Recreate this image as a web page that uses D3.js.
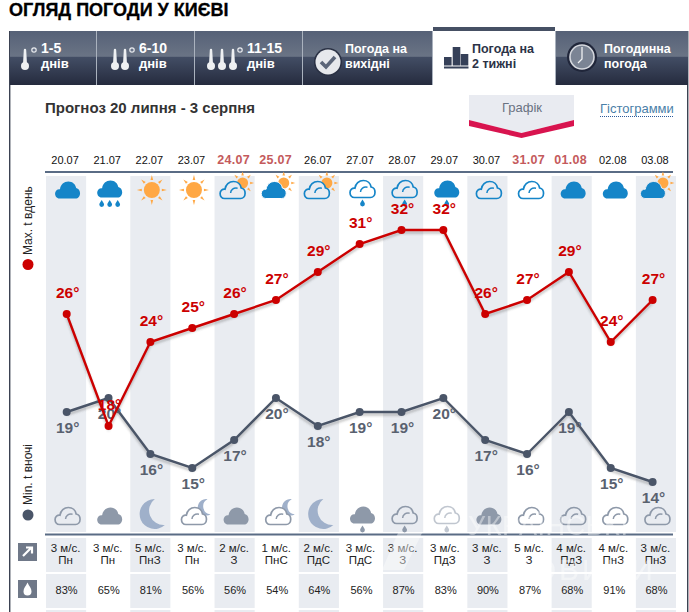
<!DOCTYPE html>
<html><head><meta charset="utf-8">
<script src="https://cdn.jsdelivr.net/npm/d3@7/dist/d3.min.js"></script>
<style>html,body{margin:0;padding:0;background:#fff}svg{display:block}text{font-family:"Liberation Sans",Arial,sans-serif}</style>
</head><body><div id="c"></div>
<script>
const dates=["20.07","21.07","22.07","23.07","24.07","25.07","26.07","27.07","28.07","29.07","30.07","31.07","01.08","02.08","03.08"];
const weekend=["24.07","25.07","31.07","01.08"];
const maxT=[26,18,24,25,26,27,29,31,32,32,26,27,29,24,27];
const minT=[19,20,16,15,17,20,18,19,19,20,17,16,19,15,14];
const dayIcons=["fill","fill+rain","sun","sun","line+sun","fill+sun","line+sun","line+drop","line+drop","fill+drop","line","line","fill","fill","fill+sun"];
const nightIcons=["line","fill","moon","line+moon","fill","line+moon","moon","fill+drop","line+drop","line+drop+pale","fill","line","line","line","line"];
const windSpeed=[3,3,5,3,2,1,2,3,3,3,3,5,4,4,3];
const windDir=["Пн","Пн","ПнЗ","Пн","З","ПнС","ПдС","ПдС","З","ПдЗ","З","З","ПдЗ","ПнЗ","ПнЗ"];
const humidity=[83,65,81,56,56,54,64,56,87,83,90,87,68,91,68];
const tabs=[
 {x0:10,x1:96,l:["1-5","днів"],tx:41,th:[25],dot:34},
 {x0:97,x1:194,l:["6-10","днів"],tx:139,th:[115,125],dot:132},
 {x0:195,x1:302,l:["11-15","днів"],tx:247,th:[211,222,233],dot:240},
 {x0:303,x1:432,l:["Погода на","вихідні"],tx:345},
 {x0:557,x1:688,l:["Погодинна","погода"],tx:604}];

const W=689,H=612,RED="#cc0000",SLATE="#4a5568",BAND="#e9ecf1",BLUE="#1585c8",SUN="#ffa845",GREY="#8e99a9",MOON="#9fb0ca";
const svg=d3.select("#c").append("svg").attr("width",W).attr("height",H);
const defs=svg.append("defs");
const tg=defs.append("linearGradient").attr("id","tab").attr("x1",0).attr("x2",0).attr("y1",0).attr("y2",1);
[[0,"#566177"],[.47,"#6a7485"],[.48,"#434e65"],[1,"#252b3e"]].forEach(s=>tg.append("stop").attr("offset",s[0]).attr("stop-color",s[1]));
const blur=defs.append("filter").attr("id","sh").attr("x","-10%").attr("y","-20%").attr("width","120%").attr("height","150%");
blur.append("feGaussianBlur").attr("stdDeviation",1.2);

const txt=(g,x,y,s,size,fill,weight,anchor)=>g.append("text").attr("x",x).attr("y",y).text(s).attr("font-size",size).attr("fill",fill).attr("font-weight",weight||"normal").attr("text-anchor",anchor||"start");

// header
txt(svg,9,16,"ОГЛЯД ПОГОДИ У КИЄВІ",18,"#000","bold").attr("stroke","#000").attr("stroke-width",.3);

// frame
svg.append("rect").attr("x",9).attr("y",31).attr("width",1.4).attr("height",H-31).attr("fill","#3b4252");
svg.append("rect").attr("x",687).attr("y",31).attr("width",1.4).attr("height",H-31).attr("fill","#3b4252");

// tabs
svg.append("rect").attr("x",10).attr("y",31).attr("width",678).attr("height",54).attr("fill","url(#tab)");
[96,194,302,432,555].forEach(x=>svg.append("rect").attr("x",x).attr("y",31).attr("width",1).attr("height",54).attr("fill","#aab2be"));
svg.append("rect").attr("x",433).attr("y",31).attr("width",122).attr("height",54).attr("fill","#fff");
svg.append("rect").attr("x",433).attr("y",27).attr("width",122).attr("height",4).attr("fill","#465064");
tabs.forEach(t=>{
  txt(svg,t.tx,53,t.l[0],t.th?14:12.5,"#fff","bold");
  txt(svg,t.tx,68,t.l[1],t.th?13:12.5,"#fff","bold");
  (t.th||[]).forEach(x=>{
    svg.append("path").attr("d",`M${x-1.2} 50A1.2 1.2 0 0 1 ${x+1.2} 50L${x+2} 64L${x-2} 64Z`).attr("fill","#eef0f2");
    svg.append("circle").attr("cx",x).attr("cy",66).attr("r",4).attr("fill","#eef0f2");
  });
  if(t.dot) svg.append("circle").attr("cx",t.dot).attr("cy",50).attr("r",2.2).attr("fill","#69748a").attr("stroke","#e8eaed").attr("stroke-width",1.2);
});
// check icon
svg.append("circle").attr("cx",328).attr("cy",62).attr("r",14).attr("fill","#2a3144");
svg.append("circle").attr("cx",328).attr("cy",62).attr("r",12.5).attr("fill","#e6e8ec");
svg.append("path").attr("d","M321 62 L326 67 L335 57").attr("fill","none").attr("stroke","#5b6579").attr("stroke-width",3.6);
// active tab icon & text
[[444,57],[452.7,47],[460.7,54]].forEach(b=>svg.append("rect").attr("x",b[0]).attr("y",b[1]).attr("width",7.6).attr("height",65.5-b[1]).attr("fill","#354058"));
svg.append("rect").attr("x",444).attr("y",66.5).attr("width",24.5).attr("height",2).attr("fill","#354058");
txt(svg,472,53,"Погода на",12.5,"#2b3347","bold");
txt(svg,472,68,"2 тижні",12.5,"#2b3347","bold");
// clock
svg.append("circle").attr("cx",582).attr("cy",57).attr("r",15).attr("fill","#20263a");
svg.append("circle").attr("cx",582).attr("cy",57).attr("r",12).attr("fill","#7b8494").attr("stroke","#d5d8de").attr("stroke-width",1.6);
svg.append("path").attr("d","M582 47 V59 L578 63").attr("fill","none").attr("stroke","#eef0f2").attr("stroke-width",1.3);

// subtitle & switch
txt(svg,45,113,"Прогноз 20 липня - 3 серпня",15,"#333","bold");
svg.append("path").attr("d","M469 95 H574 V120 L521.5 133 L469 120Z").attr("fill","#e9ebf1");
svg.append("path").attr("d","M469 120 L521.5 133 L574 120 V126 L521.5 138 L469 126Z").attr("fill","#d8144f");
txt(svg,522,112,"Графік",13,"#6a7282","normal","middle");
txt(svg,600,113,"Гістограмми",13,"#4a80a8");
svg.append("line").attr("x1",600).attr("x2",673).attr("y1",116.5).attr("y2",116.5).attr("stroke","#2a5a9a").attr("stroke-dasharray","1 1");

// scales
const colX=d3.scaleBand().domain(dates).range([46,676]).paddingInner(2/42).paddingOuter(0);
const ptX=d3.scalePoint().domain(dates).range([66.7,652.6]);
const y=d3.scaleLinear().domain([14,32]).range([482,230]);
const cx=d=>colX(d)+colX.bandwidth()/2;
const even=dates.filter((d,i)=>i%2==0);

// bands
svg.selectAll(".band").data(even).join("rect").attr("x",d=>colX(d)).attr("width",colX.bandwidth()).attr("y",176).attr("height",356).attr("fill",BAND);
[[538,34],[574,34],[610,2]].forEach(r=>svg.append("g").selectAll("rect").data(even).join("rect").attr("x",d=>colX(d)).attr("width",colX.bandwidth()).attr("y",r[0]).attr("height",r[1]).attr("fill",BAND));

// date labels
svg.selectAll(".date").data(dates).join("text").attr("x",d=>cx(d)-1).attr("y",164).attr("text-anchor","middle").text(d=>d)
  .attr("font-size",d=>weekend.includes(d)?12.5:11).attr("font-weight",d=>weekend.includes(d)?"bold":"normal").attr("fill",d=>weekend.includes(d)?"#c45a5c":"#111").attr("letter-spacing",d=>weekend.includes(d)?.3:0);
svg.append("line").attr("x1",45).attr("x2",673).attr("y1",172).attr("y2",172).attr("stroke","#5a6c85").attr("stroke-width",2);
svg.append("line").attr("x1",45).attr("x2",673).attr("y1",534.5).attr("y2",534.5).attr("stroke","#5a6c85").attr("stroke-width",2);

// icons
const CLOUD="M-8 8.5C-11 8.5-12.5 6-12.5 3.5C-12.5 .8-10.2-1.2-7.6-.8C-7-5.4-3.5-8.5 .8-8.5C5-8.5 8-5.6 8.6-2C11-1.6 12.5 .8 12.5 3.2C12.5 6.2 10.5 8.5 8 8.5Z";
const DROP="M0 -3.5C1 -1.5 2.4 -.5 2.4 1.1A2.4 2.4 0 0 1 -2.4 1.1C-2.4 -.5 -1 -1.5 0 -3.5Z";
const CRESCENT="M4 -15A15 15 0 1 0 14 11A14.5 14.5 0 0 1 4 -15Z";
function sun(g,r,ray,col){
  g.append("circle").attr("r",r).attr("fill",col);
  d3.range(8).forEach(i=>{const a=i*Math.PI/4,c=Math.cos(a),s=Math.sin(a),w=1.3;
    g.append("path").attr("d",`M${c*(r+2)-s*w} ${s*(r+2)+c*w}L${c*ray} ${s*ray}L${c*(r+2)+s*w} ${s*(r+2)-c*w}Z`).attr("fill",col);});
}
function drawIcon(g,spec,night,bg){
  const p=spec.split("+"),main=night?GREY:BLUE;
  const cy=p.includes("drop")||p.includes("rain")?-1:0;
  const pale=p.includes("pale");
  if(p[0]=="sun"){sun(g,8,15,SUN);return;}
  if(p[0]=="moon"){g.append("path").attr("d",CRESCENT).attr("fill",MOON).attr("transform","translate(-1,-2)");return;}
  const hasExtra=p.includes("sun")||p.includes("moon");
  const dx=p.includes("sun")?(p[0]=="fill"?-4.5:-3.5):0;
  if(p.includes("sun")){sun(g.append("g").attr("transform",`translate(${dx+10},-7)`),5.5,11.5,SUN);}
  if(p.includes("moon")){g.append("path").attr("d",CRESCENT).attr("fill",MOON).attr("transform","translate(10,-9) scale(.55) rotate(10)");}
  if(p[0]=="fill"){g.append("path").attr("d",CLOUD).attr("transform",`translate(${dx},${cy})`).attr("fill",main).attr("stroke",p.includes("sun")?bg:"none");}
  else{
    const c=g.append("g").attr("transform",`translate(${dx},${cy})`).attr("opacity",pale?.55:1);
    c.append("path").attr("d",CLOUD).attr("fill",hasExtra?bg:"none").attr("stroke",main).attr("stroke-width",1.7);
    c.append("path").attr("d","M-2 3C-2 -.5 1 -2.5 5 -1.8").attr("fill","none").attr("stroke",main).attr("stroke-width",1.5);
  }
  if(p.includes("drop")) g.append("path").attr("d",DROP).attr("transform","translate(0,13)").attr("fill",main).attr("opacity",pale?.55:1);
  if(p.includes("rain")) [-8,0,8].forEach(dx2=>g.append("path").attr("d",DROP).attr("transform",`translate(${dx2},13.5)`).attr("fill",main));
}
svg.append("g").selectAll("g").data(dates).join("g").attr("transform",d=>`translate(${cx(d)+1.5},190)`).each(function(d,i){drawIcon(d3.select(this),dayIcons[i],false,i%2==0?BAND:"#fff");});
svg.append("g").selectAll("g").data(dates).join("g").attr("transform",d=>`translate(${cx(d)+1.5},516)`).each(function(d,i){drawIcon(d3.select(this),nightIcons[i],true,i%2==0?BAND:"#fff");});

// series
const line=d3.line().x((v,i)=>ptX(dates[i])).y(v=>y(v));
function series(vals,col,labelCol,dy){
  svg.append("path").attr("d",line(vals)).attr("fill","none").attr("stroke","#555").attr("stroke-opacity",.35).attr("stroke-width",2.4).attr("transform","translate(0,2.5)").attr("filter","url(#sh)");
  svg.append("path").attr("d",line(vals)).attr("fill","none").attr("stroke",col).attr("stroke-width",2.4);
  svg.append("g").selectAll("circle").data(vals).join("circle").attr("cx",(v,i)=>ptX(dates[i])).attr("cy",v=>y(v)).attr("r",4).attr("fill",col);
  svg.append("g").selectAll("text").data(vals).join("text").attr("x",(v,i)=>ptX(dates[i])+1).attr("y",v=>y(v)+dy).attr("text-anchor","middle").attr("font-size",15.5).attr("font-weight","bold").attr("fill",labelCol).text(v=>v+"°");
}
series(minT,SLATE,"#59616f",21);
series(maxT,RED,RED,-16);

// legend
txt(svg.append("g").attr("transform","translate(32,255) rotate(-90)"),0,0,"Max. t вдень",12,"#222");
txt(svg.append("g").attr("transform","translate(32,505) rotate(-90)"),0,0,"Min. t вночі",12,"#222");
svg.append("circle").attr("cx",28).attr("cy",264.5).attr("r",5.5).attr("fill",RED);
svg.append("circle").attr("cx",28).attr("cy",515).attr("r",5.5).attr("fill",SLATE);

// wind & humidity rows
svg.append("rect").attr("x",18).attr("y",543).attr("width",19).attr("height",18).attr("fill","#6f7888");
svg.append("path").attr("d","M23 556L31 548M26 547.5H32V553.5").attr("fill","none").attr("stroke","#fff").attr("stroke-width",2.2);
svg.append("rect").attr("x",18).attr("y",580).attr("width",19).attr("height",18).attr("fill","#6f7888");
svg.append("path").attr("d","M27.5 582.5C29 586 31.5 588 31.5 591.5A4 4 0 0 1 23.5 591.5C23.5 588 26 586 27.5 582.5Z").attr("fill","#fff");
svg.append("g").selectAll("text").data(dates).join("text").attr("x",d=>cx(d)-.5).attr("y",552).attr("text-anchor","middle").attr("font-size",11.5).attr("fill","#222").text((d,i)=>windSpeed[i]+" м/с.");
svg.append("g").selectAll("text").data(dates).join("text").attr("x",d=>cx(d)-.5).attr("y",564).attr("text-anchor","middle").attr("font-size",11.5).attr("fill","#222").text((d,i)=>windDir[i]);
svg.append("g").selectAll("text").data(dates).join("text").attr("x",d=>cx(d)+.5).attr("y",594).attr("text-anchor","middle").attr("font-size",11).attr("fill","#222").text((d,i)=>humidity[i]+"%");

// watermark
const wm=svg.append("g").attr("opacity",.42);
wm.append("path").attr("d","M398 533H422L404 570H382Z").attr("fill","#fff");
txt(wm,468,535,"УКРАЇНСЬКІ",27,"#fff").attr("letter-spacing",.6);
txt(wm,508,580,"НОВИНИ",30,"#fff").attr("letter-spacing",3);
</script></body></html>
